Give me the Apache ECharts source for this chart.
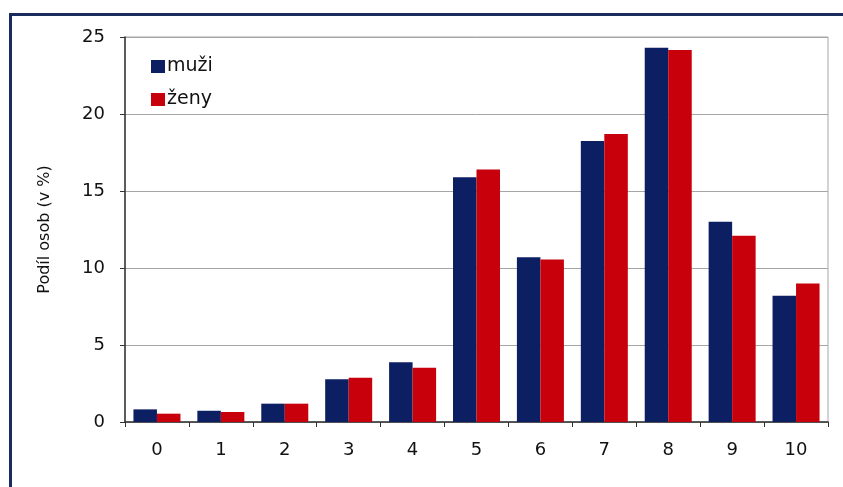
<!DOCTYPE html>
<html>
<head>
<meta charset="utf-8">
<script src="https://cdn.jsdelivr.net/npm/echarts@6/dist/echarts.min.js"></script>
<style>
html,body{margin:0;padding:0;background:#fff;}
#c{width:843px;height:487px;}
</style>
</head>
<body>
<div id="c"></div>
<script>
var categories = ['0','1','2','3','4','5','6','7','8','9','10'];
var muzi = [0.82, 0.73, 1.19, 2.77, 3.88, 15.9, 10.7, 18.25, 24.3, 13.0, 8.2];
var zeny = [0.54, 0.65, 1.19, 2.88, 3.53, 16.4, 10.55, 18.7, 24.15, 12.1, 9.0];
var yTicks = [0, 5, 10, 15, 20, 25];

var chart = echarts.init(document.getElementById('c'));
var font = 'DejaVu Sans, Verdana, sans-serif';
chart.setOption({
  animation: false,
  textStyle: {fontFamily: font},
  graphic: [{
    type: 'rect', left: 8, top: 12, z: 100, silent: true,
    shape: {width: 900, height: 520},
    style: {fill: 'none', stroke: '#1b2c5c', lineWidth: 3}
  }],
  grid: {left: 125, right: 15, top: 37, bottom: 65, show: true, borderColor: '#a6a6a6', borderWidth: 1, backgroundColor: 'transparent'},
  legend: {
    orient: 'vertical', left: 146, top: 52, itemWidth: 14, itemHeight: 13, itemGap: 14,
    icon: 'rect',
    textStyle: {fontSize: 19, color: '#111', fontFamily: font, padding: [0,0,0,-3]},
    data: ['muži', 'ženy']
  },
  xAxis: {
    type: 'category', data: categories,
    axisLine: {lineStyle: {color: '#333', width: 1.5}},
    axisTick: {show: true, alignWithLabel: false, length: 5, lineStyle: {color: '#333'}},
    axisLabel: {fontSize: 18, color: '#111', margin: 19}
  },
  yAxis: {
    type: 'value', min: yTicks[0], max: yTicks[yTicks.length-1], interval: 5,
    name: 'Podíl osob (v %)', nameLocation: 'middle', nameGap: 72, nameRotate: 90,
    nameTextStyle: {fontSize: 16, color: '#111'},
    axisLine: {show: true, lineStyle: {color: '#333', width: 1.5}},
    axisTick: {show: true, length: 5, lineStyle: {color: '#333'}},
    axisLabel: {fontSize: 18, color: '#111', margin: 20},
    splitLine: {lineStyle: {color: '#a6a6a6', width: 1}}
  },
  series: [
    {name: 'muži', type: 'bar', data: muzi, barWidth: 23.5, barGap: '0%', itemStyle: {color: '#0c1f63'}},
    {name: 'ženy', type: 'bar', data: zeny, barWidth: 23.5, barGap: '0%', itemStyle: {color: '#c8000b'}}
  ]
});
</script>
</body>
</html>
